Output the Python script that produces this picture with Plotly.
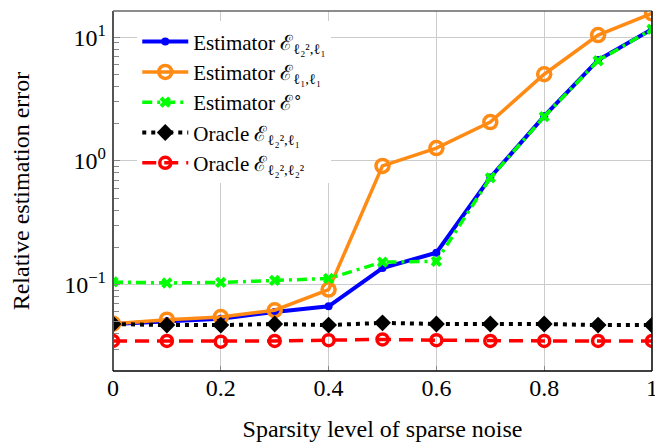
import plotly.graph_objects as go

x = [0.0, 0.1, 0.2, 0.3, 0.4, 0.5, 0.6, 0.7, 0.8, 0.9, 1.0]
est_l22_l1 = [0.048, 0.0505, 0.053, 0.060, 0.0667, 0.136, 0.181, 0.734, 2.30, 6.53, 11.6]
est_l1_l1 = [0.0483, 0.052, 0.0547, 0.062, 0.091, 0.911, 1.27, 2.06, 5.02, 10.4, 15.6]
est_circ = [0.105, 0.103, 0.104, 0.108, 0.112, 0.152, 0.154, 0.73, 2.28, 6.45, 11.6]
oracle_l22_l1 = [0.048, 0.047, 0.047, 0.048, 0.047, 0.049, 0.048, 0.048, 0.048, 0.047, 0.047]
oracle_l22_l22 = [0.035, 0.035, 0.0345, 0.035, 0.0355, 0.036, 0.0355, 0.035, 0.035, 0.035, 0.035]

names = [
    "Estimator ℰ<sub>ℓ₂²,ℓ₁</sub>",
    "Estimator ℰ<sub>ℓ₁,ℓ₁</sub>",
    "Estimator ℰ<sup>∘</sup>",
    "Oracle ℰ<sub>ℓ₂²,ℓ₁</sub>",
    "Oracle ℰ<sub>ℓ₂²,ℓ₂²</sub>",
]
x_tickvals = [0, 0.2, 0.4, 0.6, 0.8, 1]
x_ticktext = ["0", "0.2", "0.4", "0.6", "0.8", "1"]
y_tickvals = [0.1, 1, 10]
y_ticktext = ["10<sup>−1</sup>", "10<sup>0</sup>", "10<sup>1</sup>"]

FONT = "Liberation Serif, Times New Roman, serif"

fig = go.Figure()
fig.add_trace(go.Scatter(x=x, y=est_l22_l1, name=names[0], mode="lines+markers",
                         line=dict(color="#0000FF", width=4),
                         marker=dict(symbol="circle", size=8, color="#0000FF")))
fig.add_trace(go.Scatter(x=x, y=est_l1_l1, name=names[1], mode="lines+markers",
                         line=dict(color="#FF8A14", width=3.5),
                         marker=dict(symbol="circle-open", size=13, color="#FF8A14",
                                     line=dict(width=3.5, color="#FF8A14"))))
fig.add_trace(go.Scatter(x=x, y=est_circ, name=names[2], mode="lines+markers",
                         line=dict(color="#00FF00", width=3.5, dash="10px,5px,3px,5px"),
                         marker=dict(symbol="x", size=10, color="#00FF00")))
fig.add_trace(go.Scatter(x=x, y=oracle_l22_l1, name=names[3], mode="lines+markers",
                         line=dict(color="#000000", width=4, dash="4px,5px"),
                         marker=dict(symbol="diamond", size=13, color="#000000")))
fig.add_trace(go.Scatter(x=x, y=oracle_l22_l22, name=names[4], mode="lines+markers",
                         line=dict(color="#FF0000", width=3.5, dash="14px,8px"),
                         marker=dict(symbol="circle-open", size=11, color="#FF0000",
                                     line=dict(width=3.5, color="#FF0000"))))

# page body has an 8px margin: figure is sized/placed so the plot area lands at
# x 113..652, y 11..371 in the 663x442 window
fig.update_layout(
    width=655, height=434,
    margin=dict(l=105, r=11, t=3, b=71),
    plot_bgcolor="white", paper_bgcolor="white",
    font=dict(family=FONT, size=24, color="black"),
    showlegend=True,
    legend=dict(x=0.045, y=0.971, xanchor="left", yanchor="top",
                bgcolor="white", borderwidth=0,
                font=dict(family=FONT, size=21), itemwidth=46,
                tracegroupgap=0),
)
fig.update_xaxes(range=[0, 1], tickvals=x_tickvals, ticktext=x_ticktext,
                 showgrid=True, gridcolor="#CCCCCC", gridwidth=1,
                 ticks="inside", ticklen=5, tickcolor="#888888",
                 showline=False, zeroline=False, mirror=False, automargin=False,
                 tickfont=dict(size=24),
                 title=dict(text="Sparsity level of sparse noise", font=dict(size=24), standoff=21))
fig.update_yaxes(type="log", range=[-1.699, 1.212], tickvals=y_tickvals, ticktext=y_ticktext,
                 showgrid=True, gridcolor="#CCCCCC", gridwidth=1,
                 ticks="inside", ticklen=7, tickcolor="#888888",
                 ticklabelstandoff=6,
                 minor=dict(ticks="inside", ticklen=6, tickcolor="#888888", showgrid=False,
                            tickvals=[0.02, 0.03, 0.04, 0.05, 0.06, 0.07, 0.08, 0.09,
                                      0.2, 0.3, 0.4, 0.5, 0.6, 0.7, 0.8, 0.9,
                                      2, 3, 4, 5, 6, 7, 8, 9]),
                 showline=False, zeroline=False, automargin=False,
                 tickfont=dict(size=24),
                 title=dict(text="Relative estimation error", font=dict(size=24), standoff=35))

# frame
fig.add_shape(type="line", xref="paper", yref="paper", x0=0, x1=0, y0=0, y1=1,
              line=dict(color="#555555", width=2), layer="above")
fig.add_shape(type="line", xref="paper", yref="paper", x0=0, x1=1, y0=1, y1=1,
              line=dict(color="#666666", width=1.5), layer="above")
fig.add_shape(type="line", xref="paper", yref="paper", x0=1, x1=1, y0=0, y1=1,
              line=dict(color="#000000", width=1.5), layer="above")
fig.add_shape(type="line", xref="paper", yref="paper", x0=0, x1=1, y0=0, y1=0,
              line=dict(color="#000000", width=1.5), layer="above")

fig.write_html("out.html")
